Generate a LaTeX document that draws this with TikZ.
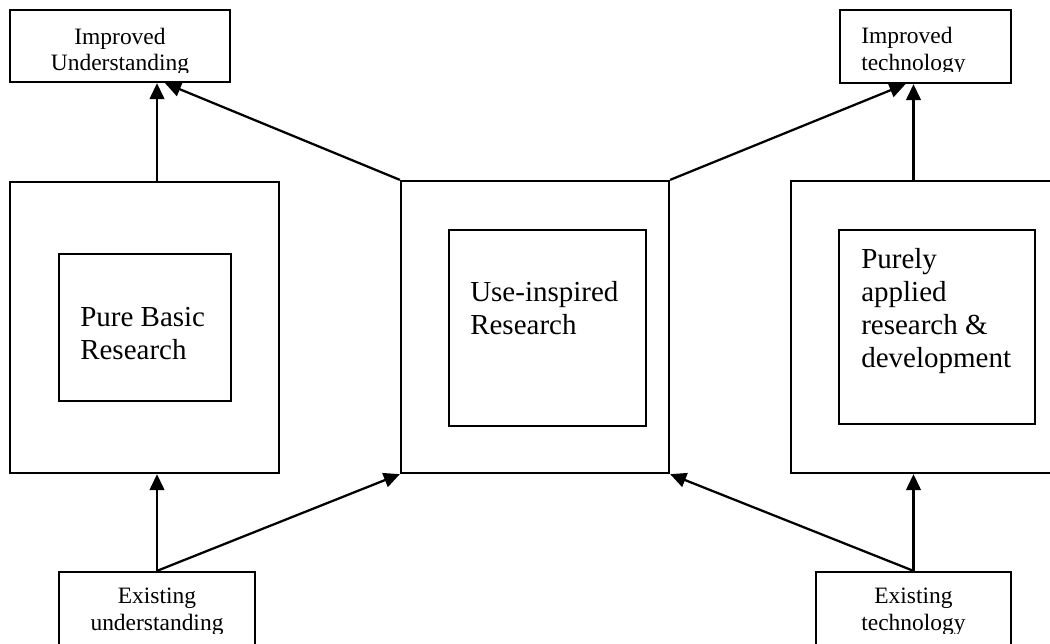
\documentclass[tikz,border=0pt]{standalone}
\usepackage{fontspec}
\setmainfont{Liberation Serif}
\usetikzlibrary{arrows.meta,calc}

\tikzset{
  box/.style={draw, line width=1.7pt, inner sep=0pt},
  link/.style={line width=1.7pt, -{Triangle[length=12pt,width=11pt]}},
  bigtext/.style={font=\fontsize{21.75}{24.75}\selectfont, inner sep=0pt, align=left, anchor=base west},
  smalltext/.style={font=\fontsize{17.6}{19.8}\selectfont, inner sep=0pt, anchor=base},
}

\begin{document}
\begin{tikzpicture}[x=0.75pt, y=-0.75pt]
        \useasboundingbox (0,0) rectangle (1050,643);
        \clip (0,0) rectangle (1050,643);

        % outer boxes
        \node[box, minimum width=201.75pt, minimum height=218.25pt] (pbo) at (144.5,327.5) {};
        \node[box, minimum width=201pt, minimum height=219pt] (uio) at (535,327) {};
        \node[box, minimum width=219.75pt, minimum height=219pt] (pao) at (937.5,327) {};

        % inner boxes
        \node[box, minimum width=129pt, minimum height=110.25pt] (pbi) at (145,327.5) {};
        \node[box, minimum width=147.75pt, minimum height=147pt] (uii) at (547.5,328) {};
        \node[box, minimum width=147pt, minimum height=145.5pt] (pai) at (937,327) {};

        % base = last line
        \node[bigtext] at (80,359) {Pure Basic\\Research};
        \node[bigtext] at (470,334) {Use-inspired\\Research};
        \node[bigtext] at (861,367) {Purely\\applied\\research \&\\development};

        % small boxes
        \node[box, minimum width=165pt, minimum height=54pt] (iu) at (120,46) {};
        \node[box, minimum width=128.25pt, minimum height=54.75pt] (it) at (925.5,46.5) {};
        \node[box, minimum width=147pt, minimum height=54.75pt] (eu) at (157,608.5) {};
        \node[box, minimum width=146.25pt, minimum height=54.75pt] (et) at (913.5,608.5) {};

        \begin{scope}
            \clip (10,10) rectangle (230,72.7);
            \node[smalltext, align=center] at (120,70.7) {Improved\\Understanding};
        \end{scope}
        \begin{scope}
            \clip (840,10) rectangle (1011,71.7);
            \node[smalltext, align=left, anchor=base west] at (861,70) {Improved\\technology};
        \end{scope}
        \begin{scope}
            \clip (59,572) rectangle (255,633);
            \node[smalltext, align=center] at (157,630) {Existing\\understanding};
        \end{scope}
        \begin{scope}
            \clip (816,572) rectangle (1011,633);
            \node[smalltext, align=center] at (913.5,630) {Existing\\technology};
        \end{scope}

        % connectors
        \draw[link] (eu.north) -- (eu.north |- pbo.south);
        \draw[link] (eu.north) -- (uio.south west);
        \draw[link] (eu.north |- pbo.north) -- (eu.north |- iu.south);
        \draw[link] (uio.north west) -- ([xshift=33.75pt]iu.south);

        \draw[link] (et.north) -- (et.north |- pao.south);
        \draw[link] (et.north) -- (uio.south east);
        \draw[link] (et.north |- pao.north) -- (et.north |- it.south);
        \draw[link] (uio.north east) -- ([xshift=-15pt]it.south);
\end{tikzpicture}
\end{document}
